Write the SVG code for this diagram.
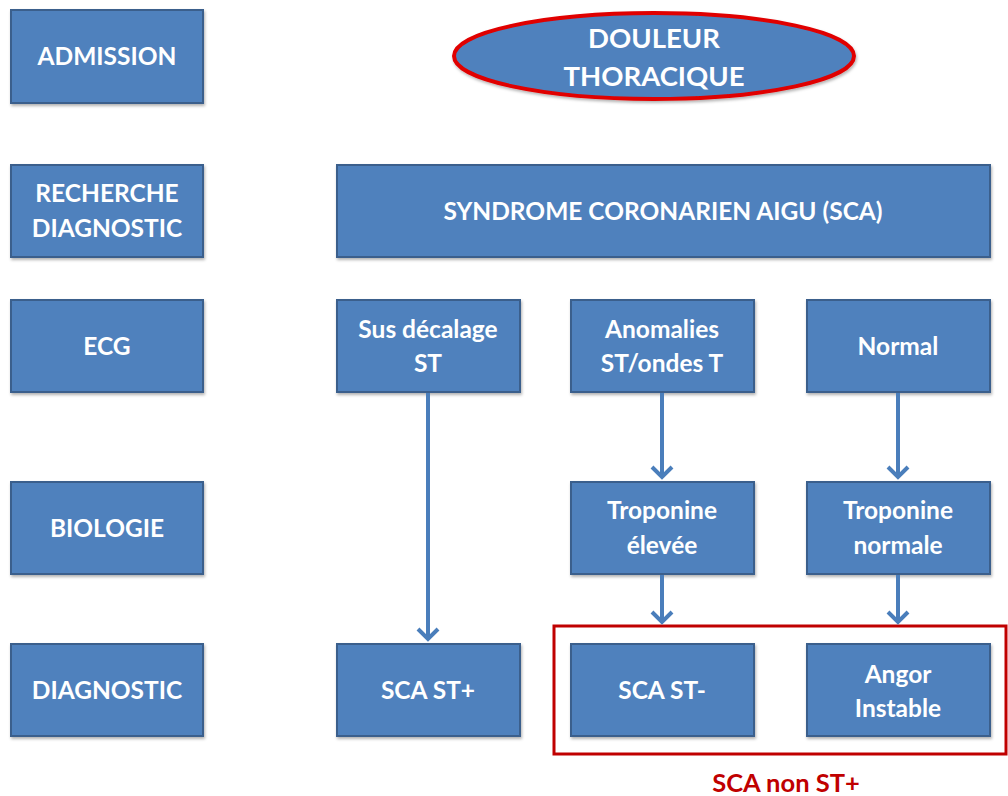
<svg xmlns="http://www.w3.org/2000/svg" width="1008" height="796" viewBox="0 0 1008 796">
<defs>
<style>
.box{fill:#4F81BD;stroke:#3A5F8C;stroke-width:2}
.t{font-family:Lato,"Open Sans","Liberation Sans",sans-serif;font-weight:bold;font-size:24.5px;fill:#FFFFFF;text-anchor:middle}
.e{font-size:27.5px}
.conn{stroke:#4A7EBB;stroke-width:4;fill:none;marker-end:url(#arr)}
</style>
<marker id="arr" markerWidth="30" markerHeight="30" refX="0" refY="0" orient="auto" markerUnits="userSpaceOnUse" overflow="visible">
<path d="M-10,-10 L0,0 L-10,10" fill="none" stroke="#4A7EBB" stroke-width="4"/>
</marker>
<filter id="sh" x="-5%" y="-5%" width="110%" height="115%">
<feDropShadow dx="1" dy="2" stdDeviation="1.5" flood-color="#000" flood-opacity="0.3"/>
</filter>
</defs>
<rect width="1008" height="796" fill="#FFFFFF"/>
<g id="admission"><rect class="box" filter="url(#sh)" x="11" y="10" width="192" height="93"/><text class="t" x="107" y="65">ADMISSION</text></g>
<g id="recherche"><rect class="box" filter="url(#sh)" x="11" y="165" width="192" height="92"/><text class="t" x="107" y="202">RECHERCHE</text><text class="t" x="107" y="237">DIAGNOSTIC</text></g>
<g id="ecg"><rect class="box" filter="url(#sh)" x="11" y="300" width="192" height="92"/><text class="t" x="107" y="355">ECG</text></g>
<g id="biologie"><rect class="box" filter="url(#sh)" x="11" y="482" width="192" height="92"/><text class="t" x="107" y="537">BIOLOGIE</text></g>
<g id="diagnostic"><rect class="box" filter="url(#sh)" x="11" y="644" width="192" height="92"/><text class="t" x="107" y="699">DIAGNOSTIC</text></g>
<g id="douleur"><ellipse cx="654" cy="56" rx="200" ry="43" fill="#4F81BD" stroke="#E00000" stroke-width="4" filter="url(#sh)"/><text class="t e" x="654" y="48">DOULEUR</text><text class="t e" x="654" y="86">THORACIQUE</text></g>
<g id="sca"><rect class="box" filter="url(#sh)" x="337" y="165" width="653" height="92"/><text class="t" x="663" y="220">SYNDROME CORONARIEN AIGU (SCA)</text></g>
<g id="sus"><rect class="box" filter="url(#sh)" x="337" y="300" width="183" height="92"/><text class="t" x="428" y="338">Sus décalage</text><text class="t" x="428" y="372">ST</text></g>
<g id="anomalies"><rect class="box" filter="url(#sh)" x="571" y="300" width="183" height="92"/><text class="t" x="662" y="338">Anomalies</text><text class="t" x="662" y="372">ST/ondes T</text></g>
<g id="normal"><rect class="box" filter="url(#sh)" x="807" y="300" width="183" height="92"/><text class="t" x="898" y="355">Normal</text></g>
<g id="tropelev"><rect class="box" filter="url(#sh)" x="571" y="482" width="183" height="92"/><text class="t" x="662" y="519">Troponine</text><text class="t" x="662" y="554">élevée</text></g>
<g id="tropnorm"><rect class="box" filter="url(#sh)" x="807" y="482" width="183" height="92"/><text class="t" x="898" y="519">Troponine</text><text class="t" x="898" y="554">normale</text></g>
<g id="scastplus"><rect class="box" filter="url(#sh)" x="337" y="644" width="183" height="92"/><text class="t" x="428" y="699">SCA ST+</text></g>
<g id="nonst"><rect x="554" y="626" width="452" height="128" fill="none" stroke="#C00000" stroke-width="3"/><text x="786" y="792" font-family="Lato,'Open Sans','Liberation Sans',sans-serif" font-weight="bold" font-size="25.5" fill="#C00000" text-anchor="middle">SCA non ST+</text></g>
<g id="scastmoins"><rect class="box" filter="url(#sh)" x="571" y="644" width="183" height="92"/><text class="t" x="662" y="699">SCA ST-</text></g>
<g id="angor"><rect class="box" filter="url(#sh)" x="807" y="644" width="183" height="92"/><text class="t" x="898" y="683">Angor</text><text class="t" x="898" y="717">Instable</text></g>
<g id="connectors">
<line class="conn" x1="428" y1="393" x2="428" y2="639"/>
<line class="conn" x1="662" y1="393" x2="662" y2="477"/>
<line class="conn" x1="898" y1="393" x2="898" y2="477"/>
<line class="conn" x1="662" y1="575" x2="662" y2="622"/>
<line class="conn" x1="898" y1="575" x2="898" y2="622"/>
</g>
</svg>
